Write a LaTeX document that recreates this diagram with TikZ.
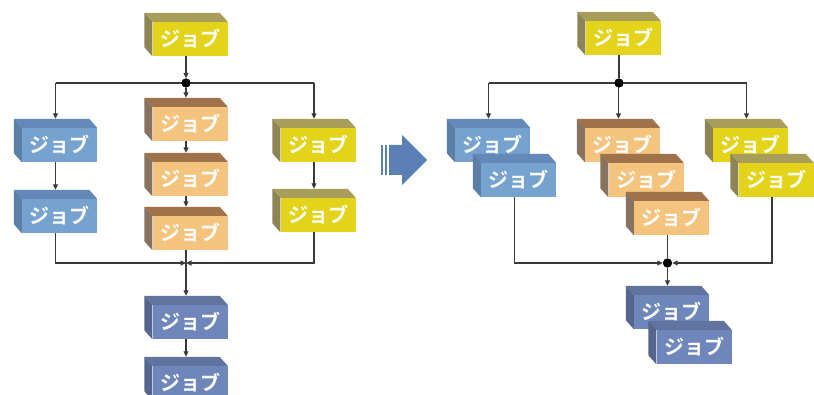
\documentclass[tikz,border=0pt]{standalone}
\usepackage{fontspec}
\newfontfamily\jp{Noto Sans CJK JP Bold}
\usetikzlibrary{arrows.meta}
\definecolor{yelF}{HTML}{E3D31B}
\definecolor{yelT}{HTML}{A89D5A}
\definecolor{yelS}{HTML}{8C8454}
\definecolor{oraF}{HTML}{F4C47E}
\definecolor{oraT}{HTML}{A0724A}
\definecolor{oraS}{HTML}{86725E}
\definecolor{lbuF}{HTML}{76A2D0}
\definecolor{lbuT}{HTML}{6389B8}
\definecolor{lbuS}{HTML}{5B7FA7}
\definecolor{dbuF}{HTML}{6E86BA}
\definecolor{dbuT}{HTML}{60749F}
\definecolor{dbuS}{HTML}{55658E}
\definecolor{lineC}{HTML}{3A3A3A}
\definecolor{bigA}{HTML}{5A80B5}
\tikzset{
  jobfront/.style={inner sep=0pt, minimum width=75pt, minimum height=34pt,
    text=white, font=\jp\fontsize{20}{20}\selectfont},
  ln/.style={draw=lineC, line width=1.1pt},
  arr/.style={ln, -{Triangle[length=5.5pt,width=5pt]}},
  dot/.style={circle, fill=black, inner sep=0pt, minimum size=9pt},
}
\newcommand\jobbox[3]{%
  \node[jobfront, fill=#3F] (#1) at (#2) {ジョブ};
  \fill[#3T] (#1.north west) -- ([shift={(-8,-9)}]#1.north west) -- ([shift={(-8,-9)}]#1.north east) -- (#1.north east) -- cycle;
  \fill[#3S] (#1.north west) -- ([shift={(-8,-9)}]#1.north west) -- ([shift={(-8,-9)}]#1.south west) -- (#1.south west) -- cycle;
  \coordinate (#1-in) at ([shift={(-4,-9)}]#1.north);
  \coordinate (#1-out) at ([xshift=-4pt]#1.south);
}
\begin{document}
\begin{tikzpicture}[x=1pt,y=-1pt]
\useasboundingbox (0,0) rectangle (814,395);
% ---------- left side ----------
\jobbox{L0}{190,39}{yel}
\jobbox{Lb1}{59.5,145}{lbu}
\jobbox{Lb2}{59.5,216}{lbu}
\jobbox{Lo1}{190,124}{ora}
\jobbox{Lo2}{190,179}{ora}
\jobbox{Lo3}{190,233}{ora}
\jobbox{Ly1}{318,145}{yel}
\jobbox{Ly2}{318,215}{yel}
\jobbox{Lv1}{190,322}{dbu}
\jobbox{Lv2}{190,383}{dbu}
\coordinate (yTop) at (0,83);
\coordinate (yMrg) at (0,263);
\node[dot] (jL) at (L0-out |- yTop) {};
\coordinate (mL) at (Lo3-out |- yMrg);
\draw[arr] (L0-out) -- (jL.north);
\draw[ln] (Lb1-in |- jL) -- (Ly1-in |- jL);
\draw[arr] (Lb1-in |- jL) -- (Lb1-in);
\draw[arr] (jL) -- (Lo1-in);
\draw[arr] (Ly1-in |- jL) -- (Ly1-in);
\draw[arr] (Lb1-out) -- (Lb2-in);
\draw[arr] (Lo1-out) -- (Lo2-in);
\draw[arr] (Lo2-out) -- (Lo3-in);
\draw[arr] (Ly1-out) -- (Ly2-in);
\draw[arr] (Lb2-out) |- (mL);
\draw[arr] (Ly2-out) |- (mL);
\draw[arr] (Lo3-out) -- (Lv1-in);
\draw[arr] (Lv1-out) -- (Lv2-in);
\node[dot] at (jL) {};
% ---------- big arrow ----------
\fill[bigA] (381,145) rectangle (383,175);
\fill[bigA] (385,145) rectangle (387,175);
\fill[bigA] (389,145) -- (402,145) -- (402,135) -- (427,160) -- (402,185) -- (402,175) -- (389,175) -- cycle;
% ---------- right side ----------
\jobbox{R0}{623,38}{yel}
\jobbox{Rb1}{492.5,145}{lbu}
\jobbox{Rb2}{518.5,180}{lbu}
\jobbox{Ro1}{622.5,145}{ora}
\jobbox{Ro2}{646,180}{ora}
\jobbox{Ro3}{671.5,218}{ora}
\jobbox{Ry1}{750.5,145}{yel}
\jobbox{Ry2}{776,180}{yel}
\jobbox{Rv1}{671.5,312}{dbu}
\jobbox{Rv2}{694,347}{dbu}
\node[dot] (jR) at (R0-out |- yTop) {};
\node[dot] (jM) at (Ro3-out |- yMrg) {};
\draw[ln] (R0-out) -- (jR);
\draw[ln] (Rb1-in |- jR) -- (Ry1-in |- jR);
\draw[arr] (Rb1-in |- jR) -- (Rb1-in);
\draw[arr] (Ro1-in |- jR) -- (Ro1-in);
\draw[arr] (Ry1-in |- jR) -- (Ry1-in);
\draw[ln] (Ro3-out) -- (jM);
\draw[arr] (Rb2-out) |- (jM.west);
\draw[arr] (Ry2-out) |- (jM.east);
\draw[arr] (jM.south) -- (Rv1-in);
\node[dot] at (jR) {};
\node[dot] at (jM) {};
\end{tikzpicture}
\end{document}
